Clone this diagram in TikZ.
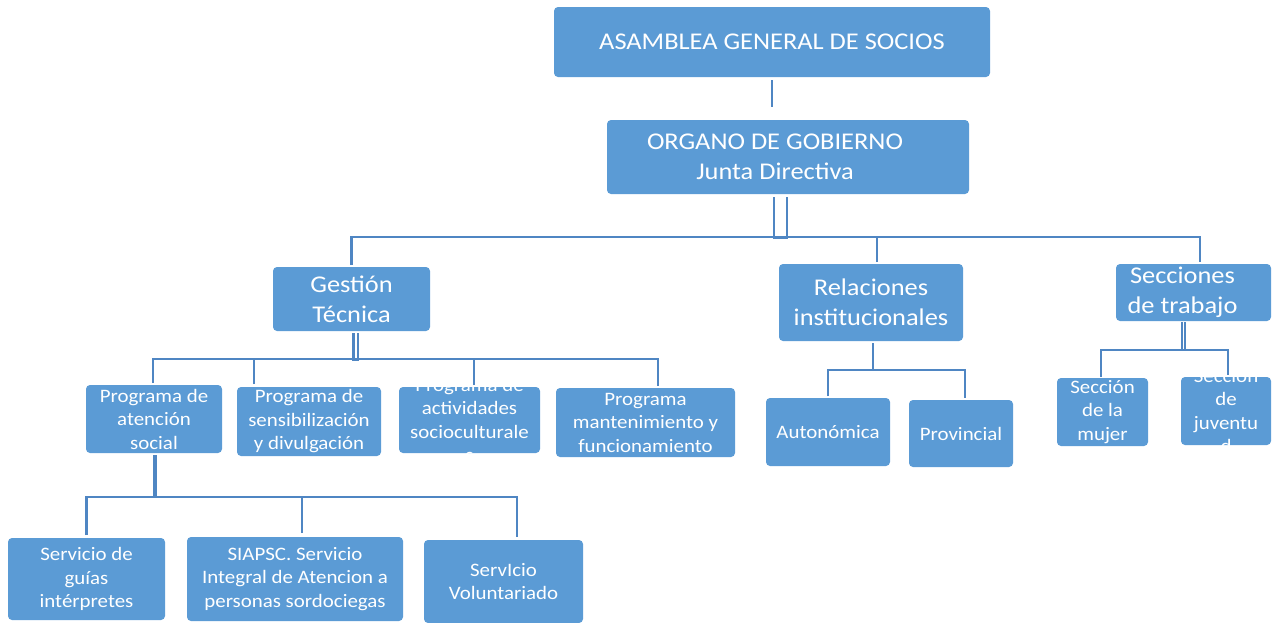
\documentclass[tikz,border=0pt]{standalone}
\usepackage{fontspec}
\setmainfont{Carlito}[FakeStretch=1.1]
\definecolor{boxfill}{RGB}{91,155,213}
\definecolor{linec}{RGB}{79,134,195}
\tikzset{
  box/.style={rectangle, rounded corners=4pt, fill=boxfill, inner sep=0pt, outer sep=0pt},
  bigtxt/.style={text=white, align=center, font=\fontsize{24}{30}\selectfont},
  smalltxt/.style={text=white, align=center, font=\fontsize{19}{23.5}\selectfont},
  big/.style={label={[bigtxt]center:{#1}}},
  small/.style={label={[smalltxt]center:{#1}}},
  conn/.style={draw=linec, line width=2.6pt},
}
\begin{document}
\begin{tikzpicture}[x=1pt,y=-1pt]
\useasboundingbox (0,0) rectangle (1272,622);
% level 0-1
\node[box, minimum width=436pt, minimum height=70pt, big={ASAMBLEA GENERAL DE SOCIOS}] (asm) at (772,42) {};
\node[box, minimum width=362pt, minimum height=74pt, label={[bigtxt, xshift=-13pt]center:{ORGANO DE GOBIERNO\\Junta Directiva}}] (org) at (788,157) {};
% level 2
\node[box, minimum width=157pt, minimum height=64pt, big={Gestión\\Técnica}] (gt) at (351.5,299) {};
\node[box, minimum width=184pt, minimum height=77pt, big={Relaciones\\institucionales}] (rel) at (871,302.5) {};
\node[box, minimum width=155pt, minimum height=57pt, label={[bigtxt, xshift=-11pt]center:{Secciones\\de trabajo}}] (sec) at (1193.5,292.5) {};
% level 3
\node[box, minimum width=136pt, minimum height=68pt, small={Programa de\\atención\\social}] (p1) at (154,419) {};
\node[box, minimum width=144pt, minimum height=69pt, small={Programa de\\sensibilización\\y divulgación}] (p2) at (309,421.5) {};
\node[box, minimum width=141pt, minimum height=66pt, small={Programa de\\actividades\\socioculturale\\s}] (p3) at (469.5,420) {};
\node[box, minimum width=179pt, minimum height=69pt, small={Programa\\mantenimiento y\\funcionamiento}] (p4) at (645.5,422.5) {};
\node[box, minimum width=124pt, minimum height=68pt, small={Autonómica}] (aut) at (828,432) {};
\node[box, minimum width=104pt, minimum height=67pt, small={Provincial}] (prov) at (961,433.5) {};
\node[box, minimum width=91pt, minimum height=68pt, small={Sección\\de la\\mujer}] (muj) at (1102.5,412) {};
\node[box, minimum width=90pt, minimum height=68pt, small={Sección\\de\\juventu\\d}] (juv) at (1226,411) {};
% level 4
\node[box, minimum width=157pt, minimum height=82pt, small={Servicio de\\guías\\intérpretes}] (s1) at (86.5,579) {};
\node[box, minimum width=216pt, minimum height=84pt, small={SIAPSC. Servicio\\Integral de Atencion a\\personas sordociegas}] (s2) at (295,579) {};
\node[box, minimum width=159pt, minimum height=83pt, small={ServIcio\\Voluntariado}] (s3) at (503.5,581.5) {};
% connectors
\coordinate (ao) at (asm.south |- org.north);
\draw[conn] ([yshift=-3pt]asm.south) -- ([yshift=13pt]ao);
\draw[conn] ([shift={(-14pt,-3pt)}]org.south) -- ++(0pt,-41pt) -- ++(13pt,0pt) -- ++(0pt,41pt);
\draw[conn] ([yshift=2pt]gt.north) |- ([xshift=6.5pt,yshift=27pt]sec.north) -- ([xshift=6.5pt,yshift=2pt]sec.north);
\draw[conn] ([xshift=6pt,yshift=2pt]rel.north) -- ++(0pt,25pt);
% gestion
\draw[conn] ([shift={(2pt,-2pt)}]gt.south) -- ++(0pt,-27pt) -- ++(4.5pt,0pt) -- ++(0pt,27pt);
\draw[conn] ([xshift=-1pt,yshift=2pt]p1.north) |- ([xshift=12.5pt,yshift=29pt]p4.north) -- ([xshift=12.5pt,yshift=2pt]p4.north);
\draw[conn] ([xshift=-55pt,yshift=3pt]p2.north) -- ++(0pt,25pt);
\draw[conn] ([xshift=4.5pt,yshift=2pt]p3.north) -- ++(0pt,26pt);
% atencion social
\draw[conn, line width=4.2pt] ([shift={(1pt,-2pt)}]p1.south) -- ++(0pt,-42pt);
\draw[conn] ([yshift=3pt]s1.north) |- ([xshift=13.5pt,yshift=43pt]s3.north) -- ([xshift=13.5pt,yshift=3pt]s3.north);
\draw[conn] ([xshift=7pt,yshift=4pt]s2.north) -- ++(0pt,36pt);
% relaciones
\draw[conn] ([shift={(2pt,-2pt)}]rel.south) -- ++(0pt,-27pt);
\draw[conn] ([yshift=2pt]aut.north) |- ([xshift=4pt,yshift=30pt]prov.north) -- ([xshift=4pt,yshift=2pt]prov.north);
% secciones
\draw[conn] ([shift={(-11.5pt,-1pt)}]sec.south) -- ++(0pt,-28pt) -- ++(3pt,0pt) -- ++(0pt,28pt);
\draw[conn] ([shift={(-1.5pt,1pt)}]muj.north) |- ([xshift=2pt,yshift=27pt]juv.north) -- ([xshift=2pt,yshift=2pt]juv.north);
\end{tikzpicture}
\end{document}
